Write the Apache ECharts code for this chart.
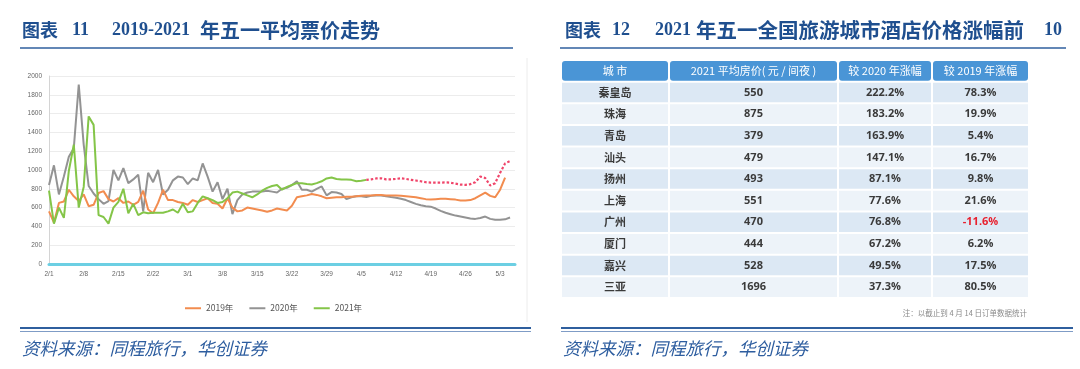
<!DOCTYPE html>
<html><head><meta charset="utf-8">
<script src="https://cdn.jsdelivr.net/npm/echarts@6/dist/echarts.min.js"></script>
<style>html,body{margin:0;padding:0;background:#fff}#c{width:1080px;height:369px}</style>
</head><body><div id="c"></div>
<script>
// ---------- data ----------
const dates = ['2/1','2/2','2/3','2/4','2/5','2/6','2/7','2/8','2/9','2/10','2/11','2/12','2/13','2/14','2/15','2/16','2/17','2/18','2/19','2/20','2/21','2/22','2/23','2/24','2/25','2/26','2/27','2/28',
'3/1','3/2','3/3','3/4','3/5','3/6','3/7','3/8','3/9','3/10','3/11','3/12','3/13','3/14','3/15','3/16','3/17','3/18','3/19','3/20','3/21','3/22','3/23','3/24','3/25','3/26','3/27','3/28','3/29','3/30','3/31',
'4/1','4/2','4/3','4/4','4/5','4/6','4/7','4/8','4/9','4/10','4/11','4/12','4/13','4/14','4/15','4/16','4/17','4/18','4/19','4/20','4/21','4/22','4/23','4/24','4/25','4/26','4/27','4/28','4/29','4/30',
'5/1','5/2','5/3','5/4','5/5','5/6'];

const price2019 = [560,440,650,665,790,720,670,740,615,630,755,775,690,665,700,650,665,
630,660,780,580,540,650,790,680,680,660,650,630,680,660,680,700,650,640,590,700,600,
560,570,600,590,580,570,555,570,590,580,570,620,710,720,730,745,735,720,700,705,710,710,715,715,720,725,730,
730,735,735,730,730,728,725,720,715,710,700,690,685,690,695,695,690,685,675,675,680,700,730,760,725,710,790,920,
null,null];

const price2020 = [840,1050,740,930,1140,1230,1910,1270,830,750,690,640,670,1000,890,1020,860,900,950,560,
970,870,1000,740,790,890,930,920,850,910,890,1070,930,770,870,690,800,530,680,740,760,770,770,770,780,770,760,
800,810,840,880,790,790,770,800,825,730,765,760,745,690,710,720,720,712,725,730,728,720,712,705,695,680,660,640,
625,615,610,590,565,545,530,515,505,495,485,480,490,505,480,470,470,475,495,null];

const price2021 = [780,430,600,490,990,1270,600,820,1570,1480,520,500,430,600,660,800,540,640,520,550,540,545,545,545,
560,580,545,640,550,560,650,720,700,680,650,660,700,760,770,750,730,710,740,780,810,830,840,790,820,840,860,860,850,
845,860,880,910,920,905,900,900,895,880,885,895,
null,null,null,null,null,null,null,null,null,null,null,null,null,null,null,null,null,null,null,null,null,null,null,null,null,null,null,null,null,null];

const price2021Forecast = [null,null,null,null,null,null,null,null,null,null,null,null,null,null,null,null,null,null,null,null,
null,null,null,null,null,null,null,null,null,null,null,null,null,null,null,null,null,null,null,null,null,null,null,null,
null,null,null,null,null,null,null,null,null,null,null,null,null,null,null,null,null,null,null,null,
895,900,910,912,900,900,905,912,905,895,888,880,870,866,865,866,868,865,855,845,842,850,870,930,915,835,860,970,1070,1095,null];

const seriesNames = ['2019年','2020年','2021年'];

const tableHeaders = ['城 市','2021 平均房价( 元 / 间夜 )','较 2020 年涨幅','较 2019 年涨幅'];
const cities = ['秦皇岛','珠海','青岛','汕头','扬州','上海','广州','厦门','嘉兴','三亚'];
const avgPrice2021 = [550,875,379,479,493,551,470,444,528,1696];
const riseVs2020 = [222.2,183.2,163.9,147.1,87.1,77.6,76.8,67.2,49.5,37.3];
const riseVs2019 = [78.3,19.9,5.4,16.7,9.8,21.6,-11.6,6.2,17.5,80.5];

// ---------- layout ----------
const colEdges = [0,108,277,371,468];
const cells = [];
tableHeaders.forEach((t,c)=>cells.push({col:c,row:0,text:t}));
cities.forEach((city,r)=>{
  cells.push({col:0,row:r+1,text:city});
  cells.push({col:1,row:r+1,text:String(avgPrice2021[r])});
  cells.push({col:2,row:r+1,text:riseVs2020[r].toFixed(1)+'%'});
  cells.push({col:3,row:r+1,text:riseVs2019[r].toFixed(1)+'%',neg:riseVs2019[r]<0});
});

const CJK = '"Noto Sans CJK SC"';
const titleColor = '#1f4f8f';
const srcColor = '#2d5d9f';

const chart = echarts.init(document.getElementById('c'), null, {renderer:'canvas'});

function tx(text, x, y, font, fill, align){
  return {type:'text', x:x, y:y, silent:true,
    style:{text:text, font:font, fill:fill, align:align||'left', verticalAlign:'middle'}};
}
function ln(x1,y1,x2,y2,color,w){
  return {type:'line', silent:true, shape:{x1:x1,y1:y1,x2:x2,y2:y2}, style:{stroke:color,lineWidth:w}};
}

const graphics = [
  // left title
  tx('图表', 22, 30, 'bold 18px '+CJK, titleColor),
  tx('11', 72, 30, 'bold 18px "Liberation Serif"', titleColor),
  tx('2019-2021', 112, 30, 'bold 18px "Liberation Serif"', titleColor),
  tx('年五一平均票价走势', 200, 30, 'bold 20px '+CJK, titleColor),
  ln(20, 48, 513, 48, '#2f5f9e', 1.5),
  // right title
  tx('图表', 565, 30, 'bold 18px '+CJK, titleColor),
  tx('12', 612, 30, 'bold 18px "Liberation Serif"', titleColor),
  tx('2021', 655, 30, 'bold 18px "Liberation Serif"', titleColor),
  tx('年五一全国旅游城市酒店价格涨幅前', 696, 30, 'bold 20.5px '+CJK, titleColor),
  tx('10', 1044, 30, 'bold 18px "Liberation Serif"', titleColor),
  ln(560, 48, 1066, 48, '#2f5f9e', 1.5),
  // left chart frame edge
  ln(527, 58, 527, 322, '#ececec', 1),
  // bottom double lines
  ln(20, 328, 531, 328, '#2f5f9e', 2),
  ln(20, 331.5, 531, 331.5, '#7f9cc6', 1),
  ln(561, 328, 1073, 328, '#2f5f9e', 2),
  ln(561, 331.5, 1073, 331.5, '#7f9cc6', 1),
  // source
  tx('资料来源：同程旅行，华创证券', 22, 348, 'italic 17.5px '+CJK, srcColor),
  tx('资料来源：同程旅行，华创证券', 563, 348, 'italic 17.5px '+CJK, srcColor),
  // note
  tx('注：以截止到 4 月 14 日订单数据统计', 1027, 313, '7.5px '+CJK, '#8a8a8a', 'right')
];

const lineColors = ['#f28c4f','#939393','#84c548'];

chart.setOption({
  animation:false,
  backgroundColor:'#fff',
  grid:[
    {left:49, top:76, width:466, height:188},
    {left:561, top:60, width:468, height:238}
  ],
  legend:{
    data:seriesNames, left:180, top:299, itemWidth:16, itemHeight:2, itemGap:16,
    icon:'rect', textStyle:{fontSize:8.5, color:'#555', fontFamily:CJK}
  },
  xAxis:[
    {gridIndex:0, type:'category', data:dates, boundaryGap:false,
     axisLine:{lineStyle:{color:'#6ccfe3', width:3}},
     axisTick:{show:false},
     axisLabel:{interval:6, fontSize:6.5, color:'#666', margin:7, fontFamily:'Liberation Sans'},
     splitLine:{show:false}},
    {gridIndex:1, type:'value', min:0, max:468, show:false}
  ],
  yAxis:[
    {gridIndex:0, type:'value', min:0, max:2000, interval:200,
     axisLine:{show:true, lineStyle:{color:'#d4d4d4', width:1}},
     axisTick:{show:false},
     axisLabel:{fontSize:6.5, color:'#666', margin:7, fontFamily:'Liberation Sans', formatter:v=>String(v)},
     splitLine:{lineStyle:{color:'#ececec', width:1}}},
    {gridIndex:1, type:'category', inverse:true, data:['header'].concat(cities), show:false}
  ],
  series:[
    {name:'2019年', type:'line', xAxisIndex:0, yAxisIndex:0, data:price2019, showSymbol:false,
     lineStyle:{color:lineColors[0], width:2}, itemStyle:{color:lineColors[0]}, z:3},
    {name:'2020年', type:'line', xAxisIndex:0, yAxisIndex:0, data:price2020, showSymbol:false,
     lineStyle:{color:lineColors[1], width:2}, itemStyle:{color:lineColors[1]}, z:2},
    {name:'2021年', type:'line', xAxisIndex:0, yAxisIndex:0, data:price2021, showSymbol:false,
     lineStyle:{color:lineColors[2], width:2}, itemStyle:{color:lineColors[2]}, z:4},
    {name:'2021预测', type:'line', xAxisIndex:0, yAxisIndex:0, data:price2021Forecast, showSymbol:false,
     lineStyle:{color:'#f0456a', width:2.2, type:[2.5,2]}, itemStyle:{color:'#f0456a'}, z:5},
    {name:'table', type:'custom', xAxisIndex:1, yAxisIndex:1,
     data:cells.map(c=>[colEdges[c.col], c.row]),
     encode:{x:0, y:1},
     renderItem:function(params, api){
       const cell = cells[params.dataIndex];
       const r = cell.row, c = cell.col;
       const p0 = api.coord([colEdges[c], r]);
       const p1 = api.coord([colEdges[c+1], r]);
       const h = api.size([0,1])[1];
       let fill = r===0 ? '#4a95d6' : (r%2===1 ? '#dce8f4' : '#edf3f9');
       let tf = r===0 ? '#ffffff' : (cell.neg ? '#e8202e' : '#3a3a3a');
       const font = (r===0 ? '' : 'bold ') + '11px ' + (c===0 || r===0 ? CJK : '"Open Sans", '+CJK);
       return {type:'group', children:[
         {type:'rect', shape:{x:p0[0]+1, y:p0[1]-h/2+1, width:p1[0]-p0[0]-2, height:h-2, r:r===0?3:0},
          style:{fill:fill}},
         {type:'text', x:(p0[0]+p1[0])/2, y:p0[1],
          style:{text:cell.text, font:font, fill:tf, align:'center', verticalAlign:'middle'}}
       ]};
     }}
  ],
  graphic:graphics
});
</script></body></html>
